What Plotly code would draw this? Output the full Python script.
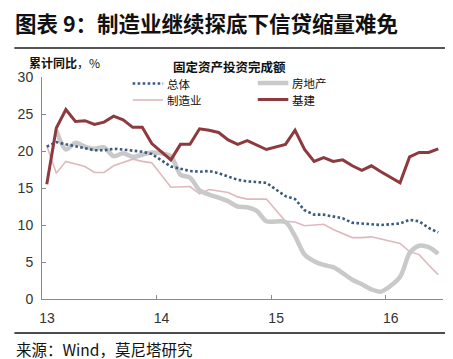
import plotly.graph_objects as go

# Monthly categories, Jan 2013 .. Jun 2016 (Jan values of 2014-2016 not published -> gaps)
months = [f"{y}-{m:02d}" for y in (2013, 2014, 2015) for m in range(1, 13)] + [f"2016-{m:02d}" for m in range(1, 7)]

total = [20.6, 21.2, 20.9, 20.6, 20.4, 20.1, 20.1, 20.3, 20.2, 20.1, 19.9, 19.6,
         None, 17.9, 17.6, 17.3, 17.2, 17.3, 17.0, 16.5, 16.1, 15.9, 15.8, 15.7,
         None, 13.9, 13.5, 12.0, 11.4, 11.4, 11.2, 10.9, 10.3, 10.2, 10.2, 10.0,
         None, 10.2, 10.7, 10.5, 9.6, 9.0]
manufacturing = [20.7, 17.0, 18.6, 18.3, 17.9, 17.1, 17.1, 18.0, 18.5, 18.9, 18.6, 18.4,
                 None, 15.1, 15.2, 15.2, 14.2, 14.8, 14.6, 14.4, 13.8, 13.5, 13.5, 13.5,
                 None, 10.5, 10.4, 9.9, 10.0, 10.1, 9.4, 8.9, 8.3, 8.3, 8.4, 8.1,
                 None, 7.5, 6.4, 6.0, 4.6, 3.3]
real_estate = [None, 22.8, 20.2, 21.1, 20.6, 20.3, 20.5, 19.3, 19.7, 19.2, 19.5, 19.8,
               None, 19.3, 16.8, 16.4, 14.7, 14.1, 13.7, 13.2, 12.5, 12.4, 11.9, 10.5,
               None, 10.4, 8.5, 6.0, 5.1, 4.6, 4.3, 3.5, 2.6, 2.0, 1.3, 1.0,
               None, 3.0, 6.2, 7.2, 7.0, 6.1]
infrastructure = [15.5, 23.1, 25.6, 24.0, 24.1, 23.6, 23.9, 24.7, 24.2, 23.2, 23.2, 21.0,
                  None, 18.8, 20.9, 20.9, 23.0, 22.8, 22.5, 21.5, 20.9, 21.4, 20.8, 20.2,
                  None, 20.9, 22.8, 20.2, 18.6, 19.1, 18.6, 18.8, 18.0, 17.4, 18.0, 17.2,
                  None, 15.7, 19.2, 19.8, 19.8, 20.3]

series_names = ["总体", "制造业", "房地产", "基建"]
year_ticks = ["13", "14", "15", "16"]
y_ticks = [0, 5, 10, 15, 20, 25, 30]

x = list(range(len(months)))
year_pos = [i - 0.5 for i, m in enumerate(months) if m.endswith("-01")]

AX = "#8a8a8a"
styles = {
    "总体": dict(color="#3A5A82", width=2.6, dash="2.6px,2.4px"),
    "制造业": dict(color="#DDB9BD", width=1.6),
    "房地产": dict(color="#C9C9C9", width=4.5),
    "基建": dict(color="#8D3A3E", width=3),
}

fig = go.Figure()
fig.add_trace(go.Scatter(x=x, y=manufacturing, name="制造业", mode="lines", connectgaps=True,
                         line=styles["制造业"]))
fig.add_trace(go.Scatter(x=x, y=real_estate, name="房地产", mode="lines", connectgaps=True,
                         line=dict(styles["房地产"], shape="spline", smoothing=0.8)))
fig.add_trace(go.Scatter(x=x, y=total, name="总体", mode="lines", connectgaps=True,
                         line=styles["总体"]))
fig.add_trace(go.Scatter(x=x, y=infrastructure, name="基建", mode="lines", connectgaps=True,
                         line=styles["基建"]))

# page has an 8px body margin: figure coords = window coords - 8
W, H = 445, 351
L, R, T, B = 28, 10, 69, 60
pw, ph = W - L - R, H - T - B


def px(xp):
    return (xp - L) / pw


def py(yp):
    return (H - B - yp) / ph


shapes = [
    dict(type="line", xref="paper", yref="paper", x0=px(0), x1=px(W), y0=py(40), y1=py(40),
         line=dict(color="#555", width=2)),
    dict(type="line", xref="paper", yref="paper", x0=px(0), x1=px(W), y0=py(325), y1=py(325),
         line=dict(color="#111", width=1.5)),
]
annotations = [
    dict(text="<b>图表 9：制造业继续探底下信贷缩量难免</b>", xref="paper", yref="paper",
         x=px(0), y=py(14), xanchor="left", yanchor="middle", showarrow=False, borderpad=0,
         font=dict(family="Noto Sans CJK SC", size=21.5, color="#111")),
    dict(text="<b>累计同比</b>，%", xref="paper", yref="paper",
         x=px(14), y=py(55), xanchor="left", yanchor="middle", showarrow=False, borderpad=0,
         font=dict(family="Noto Sans CJK SC", size=12, color="#111")),
    dict(text="<b>固定资产投资完成额</b>", xref="paper", yref="paper",
         x=px(218), y=py(58), xanchor="center", yanchor="middle", showarrow=False, borderpad=0,
         font=dict(family="Noto Sans CJK SC", size=12.5, color="#111")),
    dict(text="来源：Wind，莫尼塔研究", xref="paper", yref="paper",
         x=px(0), y=py(341), xanchor="left", yanchor="middle", showarrow=False,
         font=dict(family="Noto Sans CJK SC", size=15.5, color="#111")),
]

# legend (two columns): sample line + label
legend_slots = {"总体": (120, 75.5), "制造业": (120, 92), "房地产": (247, 75), "基建": (247, 91.5)}
for name in series_names:
    lx, ly = legend_slots[name]
    shapes.append(dict(type="line", xref="paper", yref="paper", x0=px(lx), x1=px(lx + 31),
                       y0=py(ly), y1=py(ly), line=styles[name]))
    annotations.append(dict(text=name, xref="paper", yref="paper", x=px(lx + 34), y=py(ly),
                            xanchor="left", yanchor="middle", showarrow=False, borderpad=0,
                            font=dict(family="Noto Sans CJK SC", size=11.5, color="#111")))

fig.update_layout(
    width=W, height=H, margin=dict(l=L, r=R, t=T, b=B),
    paper_bgcolor="white", plot_bgcolor="white", showlegend=False,
    font=dict(family="Liberation Sans, Arial", size=14, color="#333"),
    xaxis=dict(range=[-0.5, len(months) - 0.5], tickvals=year_pos, ticktext=year_ticks,
               ticks="inside", ticklen=4, tickcolor=AX, showline=True, linecolor=AX, linewidth=1,
               showgrid=False, zeroline=False, ticklabelshift=5, ticklabelstandoff=6,
               tickfont=dict(size=14, color="#333")),
    yaxis=dict(range=[0, 30], tickvals=y_ticks, ticks="inside", ticklen=4, tickcolor=AX,
               showline=True, linecolor=AX, linewidth=1, showgrid=False, zeroline=False,
               ticklabelstandoff=5, tickfont=dict(size=14, color="#333")),
    shapes=shapes,
    annotations=annotations,
)

fig.write_html("out.html")
